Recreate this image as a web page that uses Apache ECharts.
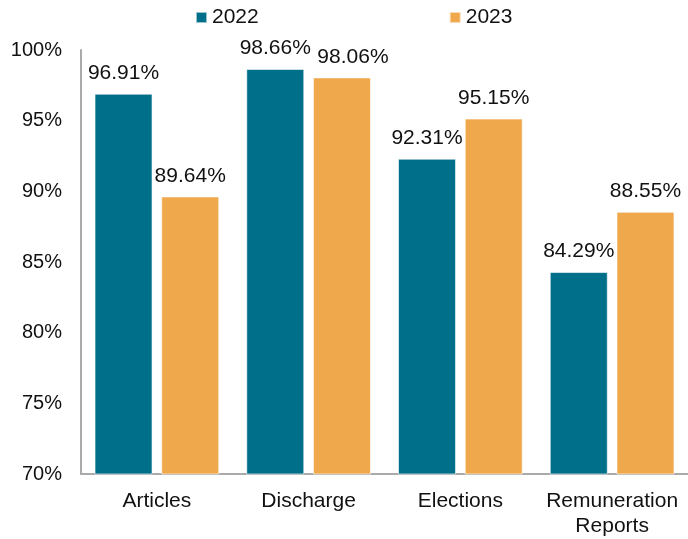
<!DOCTYPE html>
<html>
<head>
<meta charset="utf-8">
<script src="https://cdn.jsdelivr.net/npm/echarts@6/dist/echarts.min.js"></script>
<style>
  html, body { margin: 0; padding: 0; background: #fff; }
  #chart { width: 688px; height: 539px; }
</style>
</head>
<body>
<div id="chart"></div>
<script>
// Approval rates by agenda item type
const categories = ['Articles', 'Discharge', 'Elections', 'Remuneration\nReports'];
const years = ['2022', '2023'];
const values2022 = [96.91, 98.66, 92.31, 84.29];
const values2023 = [89.64, 98.06, 95.15, 88.55];
const yTicks = { min: 70, max: 100, step: 5 };

const colors = ['#006F8A', '#F0A84C'];
const font = '"Liberation Sans", Arial, sans-serif';

const chart = echarts.init(document.getElementById('chart'));

// Nudge a label sideways where two neighbouring value labels would collide
function labelShift(seriesIndex, dataIndex) {
  return (seriesIndex === 1 && dataIndex === 1) ? [11, 0] : [0, 0];
}

function barSeries(seriesIndex, name, data, color) {
  return {
    name: name,
    type: 'bar',
    data: data.map((v, i) => ({ value: v, label: { offset: labelShift(seriesIndex, i) } })),
    barWidth: 58,
    barGap: '15%',
    itemStyle: { color: color, borderColor: 'rgba(255,255,255,0.6)', borderWidth: 1 },
    label: {
      show: true,
      position: 'top',
      distance: 10,
      color: '#111',
      fontFamily: font,
      fontSize: 21,
      formatter: p => p.value.toFixed(2) + '%'
    }
  };
}

chart.setOption({
  animation: false,
  textStyle: { fontFamily: font },
  legend: {
    data: years,
    top: 7,
    left: 195,
    padding: 0,
    itemGap: 190,
    itemWidth: 11,
    itemHeight: 11,
    icon: 'rect',
    textStyle: { fontSize: 21, color: '#111', fontFamily: font }
  },
  grid: { left: 81, right: -5, top: 50, bottom: 62, containLabel: false },
  xAxis: {
    type: 'category',
    data: categories,
    axisLine: { show: true, lineStyle: { color: '#aaaaaa', width: 2 } },
    axisTick: { show: false },
    axisLabel: {
      color: '#111',
      fontSize: 21,
      fontFamily: font,
      margin: 15,
      lineHeight: 25,
      interval: 0
    }
  },
  yAxis: {
    type: 'value',
    min: yTicks.min,
    max: yTicks.max,
    interval: yTicks.step,
    axisLine: { show: true, lineStyle: { color: '#aaaaaa', width: 2 } },
    axisTick: { show: false },
    splitLine: { show: false },
    axisLabel: {
      color: '#111',
      fontSize: 20,
      fontFamily: font,
      margin: 19,
      formatter: v => v + '%'
    }
  },
  series: [
    barSeries(0, years[0], values2022, colors[0]),
    barSeries(1, years[1], values2023, colors[1])
  ]
});
</script>
</body>
</html>
